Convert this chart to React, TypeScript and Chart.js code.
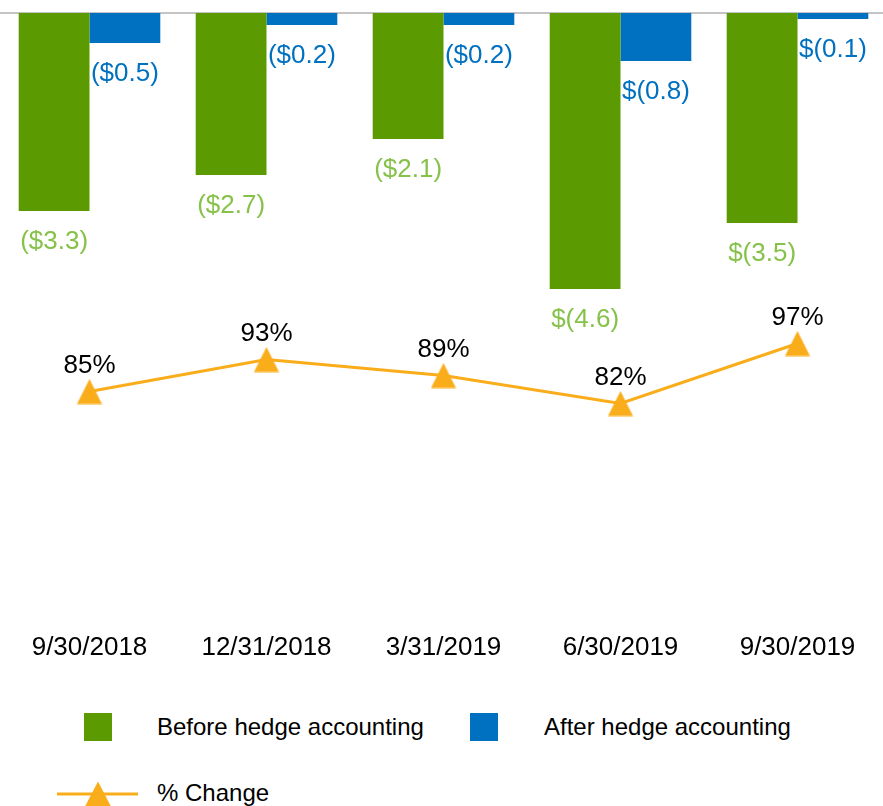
import React, { useEffect, useRef } from "react";
import { Chart, registerables } from "chart.js";

Chart.register(...registerables);

const categories = ["9/30/2018", "12/31/2018", "3/31/2019", "6/30/2019", "9/30/2019"];
const beforeHedge = [-3.3, -2.7, -2.1, -4.6, -3.5];
const afterHedge = [-0.5, -0.2, -0.2, -0.8, -0.1];
const beforeLabels = ["($3.3)", "($2.7)", "($2.1)", "$(4.6)", "$(3.5)"];
const afterLabels = ["($0.5)", "($0.2)", "($0.2)", "$(0.8)", "$(0.1)"];
const pctChange = [85, 93, 89, 82, 97];
const pctLabels = ["85%", "93%", "89%", "82%", "97%"];

const FONT = "'Liberation Sans', Arial, Helvetica, sans-serif";
const GREEN = "#5B9A00";
const GREEN_LABEL = "#86C24A";
const BLUE = "#0070C0";
const ORANGE = "#FAAD1A";

function makeTriangle(): HTMLCanvasElement {
  const c = document.createElement("canvas");
  c.width = 26;
  c.height = 26;
  const ctx = c.getContext("2d")!;
  ctx.fillStyle = ORANGE;
  ctx.beginPath();
  ctx.moveTo(13, 0.5);
  ctx.lineTo(25.5, 25.5);
  ctx.lineTo(0.5, 25.5);
  ctx.closePath();
  ctx.fill();
  return c;
}

const labelPlugin = {
  id: "customLabels",
  beforeDatasetsDraw(chart: any) {
    const ctx = chart.ctx;
    const y0 = chart.scales.y.getPixelForValue(0);
    ctx.save();
    ctx.strokeStyle = "#b0b0b0";
    ctx.lineWidth = 1.5;
    ctx.beginPath();
    ctx.moveTo(0, y0);
    ctx.lineTo(chart.width, y0);
    ctx.stroke();
    ctx.restore();
  },
  afterDatasetsDraw(chart: any) {
    const ctx = chart.ctx;
    ctx.save();
    ctx.font = `26px ${FONT}`;
    ctx.textAlign = "center";
    ctx.textBaseline = "middle";
    const sets = [
      { idx: 0, labels: beforeLabels, color: GREEN_LABEL },
      { idx: 1, labels: afterLabels, color: BLUE },
    ];
    sets.forEach((s) => {
      const meta = chart.getDatasetMeta(s.idx);
      meta.data.forEach((el: any, i: number) => {
        ctx.fillStyle = s.color;
        ctx.fillText(s.labels[i], el.x, el.y + 31);
      });
    });
    const lm = chart.getDatasetMeta(2);
    ctx.fillStyle = "#000";
    lm.data.forEach((el: any, i: number) => {
      ctx.fillText(pctLabels[i], el.x, el.y - 26);
    });
    ctx.restore();
  },
};

export default function App() {
  const ref = useRef<HTMLCanvasElement>(null);

  useEffect(() => {
    if (!ref.current) return;
    const tri = makeTriangle();
    const chart = new Chart(ref.current, {
      type: "bar",
      data: {
        labels: categories,
        datasets: [
          {
            label: "Before hedge accounting",
            data: beforeHedge,
            backgroundColor: GREEN,
            categoryPercentage: 0.8,
            barPercentage: 1.0,
            order: 2,
          },
          {
            label: "After hedge accounting",
            data: afterHedge,
            backgroundColor: BLUE,
            categoryPercentage: 0.8,
            barPercentage: 1.0,
            order: 2,
          },
          {
            type: "line",
            label: "% Change",
            data: pctChange,
            yAxisID: "y1",
            borderColor: ORANGE,
            borderWidth: 3,
            pointStyle: tri as any,
            pointRadius: 13,
            pointBackgroundColor: ORANGE,
            tension: 0,
            clip: false,
            order: 0,
          } as any,
        ],
      },
      options: {
        responsive: false,
        animation: false,
        devicePixelRatio: 1,
        layout: { autoPadding: false, padding: { top: 13, left: 1, right: 2, bottom: 0 } },
        plugins: {
          legend: { display: false },
          tooltip: { enabled: false },
        },
        scales: {
          x: {
            grid: { display: false, drawTicks: false },
            border: { display: false },
            ticks: {
              color: "#000",
              font: { family: FONT, size: 26 },
              padding: 19,
              autoSkip: false,
              maxRotation: 0,
            },
            afterFit: (scale: any) => {
              scale.height = 80;
            },
          },
          y: {
            display: false,
            min: -10,
            max: 0,
          },
          y1: {
            display: false,
            position: "right",
            min: 29.625,
            max: 179.625,
          },
        },
      } as any,
      plugins: [labelPlugin],
    });
    return () => chart.destroy();
  }, []);

  const textStyle: React.CSSProperties = {
    position: "absolute",
    fontFamily: FONT,
    fontSize: 24,
    lineHeight: "28px",
    color: "#000",
    whiteSpace: "nowrap",
  };

  return (
    <div
      style={{
        position: "absolute",
        left: 0,
        top: 0,
        width: 883,
        height: 806,
        overflow: "hidden",
        background: "#fff",
      }}
    >
      <canvas
        ref={ref}
        width={888}
        height={693}
        style={{ position: "absolute", left: 0, top: 0, width: 888, height: 693 }}
      />
      <div style={{ position: "absolute", left: 84, top: 713, width: 28, height: 28, background: GREEN }} />
      <div style={{ ...textStyle, left: 157, top: 713 }}>Before hedge accounting</div>
      <div style={{ position: "absolute", left: 470, top: 713, width: 28, height: 28, background: BLUE }} />
      <div style={{ ...textStyle, left: 544, top: 713 }}>After hedge accounting</div>
      <svg
        style={{ position: "absolute", left: 57, top: 781 }}
        width={81}
        height={26}
        viewBox="0 0 81 26"
      >
        <line x1={0} y1={13} x2={81} y2={13} stroke={ORANGE} strokeWidth={3} />
        <polygon points="28,25.5 41,0.5 54,25.5" fill={ORANGE} />
      </svg>
      <div style={{ ...textStyle, left: 157, top: 779 }}>% Change</div>
    </div>
  );
}
